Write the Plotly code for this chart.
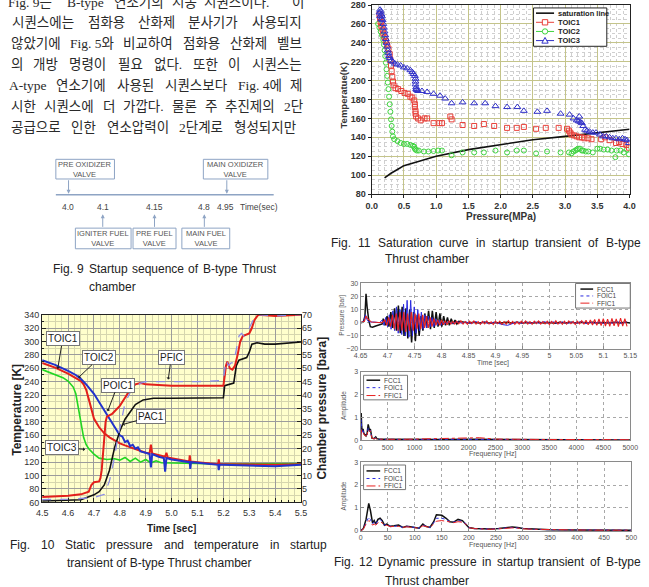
import plotly.graph_objects as go

W, H = 649, 587
def px(x): return x / W
def py(y): return 1 - y / H

SANS = "Liberation Sans, Arial, sans-serif"
BODY = "Liberation Serif, Noto Sans CJK KR, serif"

# ================= Fig. 10 data (time [sec], temperature [K], pressure [bara]) =================
t_toic1 = [4.50,4.55,4.60,4.63,4.65,4.66,4.67,4.68,4.69,4.70,4.72,4.74,4.76,4.78,4.80,4.82,4.84,4.86,4.88,4.90,
           4.915,4.92,4.925,4.95,4.975,4.98,4.985,5.00,5.05,5.068,5.07,5.073,5.10,5.15,5.18,5.182,5.185,5.20,5.30,5.40,5.50]
T_toic1 = [268,261,252,246,241,236,228,214,198,185,172,163,157,152,148,145,142,139,136,134,
           133,146,133,130,128,134,127,126,123,121,130,121,120,118,117,124,117,117,116,116,117]
t_toic2 = [4.50,4.55,4.60,4.63,4.65,4.67,4.70,4.72,4.74,4.76,4.78,4.80,4.81,4.82,4.83,4.84,4.85,4.86,4.87,4.88,
           4.90,4.915,4.92,4.925,4.95,4.97,4.975,4.98,5.00,5.05,5.07,5.072,5.075,5.10,5.15,5.18,5.182,5.185,5.20,5.30,5.40,5.50]
T_toic2 = [272,265,256,250,244,236,222,210,198,185,172,160,158,150,152,144,146,140,142,136,
           134,132,112,132,128,126,106,126,124,121,120,110,120,119,117,116,108,116,116,115,114,116]
t_toic3 = [4.50,4.55,4.58,4.60,4.61,4.62,4.63,4.64,4.65,4.66,4.67,4.68,4.70,4.72,4.75,4.78,4.80,4.82,4.84,4.86,
           4.88,4.90,4.92,4.94,4.96,5.00,5.10,5.20,5.30,5.40,5.50]
T_toic3 = [258,251,246,241,237,232,222,200,175,157,146,140,132,126,124,125,123,127,121,126,
           120,124,119,122,119,119,118,117,117,118,118]
t_poic1 = [4.50,4.55,4.60,4.65,4.68,4.69,4.70,4.72,4.725,4.73,4.735,4.74,4.745,4.75,4.77,4.78,4.80,4.82,4.84,4.86,
           4.88,4.90,4.95,5.00,5.10,5.20,5.205,5.21,5.215,5.225,5.235,5.245,5.255,5.265,5.275,5.29,5.30,5.31,5.32,5.335,5.40,5.50]
p_poic1 = [2.0,2.2,2.5,3.0,4.0,6.5,7.5,7.8,9,12,18,25,30,32,33,34,36,39,42,44,
           44.5,44,43.8,43.5,43.5,43.5,47,51,52.5,50,49.5,51,55,60,62,62.5,63,65,68,70,69.5,70]
t_pfic = [4.50,4.60,4.70,4.74,4.76,4.78,4.79,4.80,4.81,4.82,4.84,4.86,4.88,4.90,5.00,5.10,5.20,5.205,5.21,5.22,
          5.23,5.24,5.25,5.26,5.27,5.28,5.30,5.32,5.33,5.40,5.50]
p_pfic = [1.0,1.2,1.8,3,8,17,23,28,33,37,41,43,44.5,45,45,45,45.5,50,53,51,
          52,52,57,62,63,62,65,69,70,69.5,70]
t_pac1 = [4.50,4.60,4.65,4.70,4.72,4.74,4.76,4.78,4.80,4.82,4.84,4.86,4.89,4.93,5.00,5.10,5.20,5.205,5.24,5.25,
          5.26,5.29,5.30,5.31,5.33,5.36,5.40,5.50]
p_pac1 = [0.5,0.8,1.0,2.8,4.0,6.5,12,20.5,26.6,31,34,36.5,38.2,38.8,38.8,38.8,39,43.5,44.5,51,
          53,54,56,59,59.5,59,59,59.8]

# ================= Fig. 11 data (pressure [MPa], temperature [K]) =================
p_sat = [0.2,0.3,0.4,0.5,0.75,1.0,1.5,2.0,2.5,3.0,3.5,4.0]
T_sat = [97,102,106,110,115,120,127,132.5,137.5,141,144.5,148.5]
p_s1 = [0.12,0.13,0.14,0.15,0.17,0.18,0.20,0.22,0.24,0.26,0.28,0.29,0.30,0.31,0.32,0.33,0.34,0.37,0.41,0.46,
        0.51,0.56,0.60,0.63,0.66,0.67,0.67,0.68,0.68,0.69,0.72,0.76,0.82,0.86,0.96,1.05,1.09,1.22,1.24,1.41,
        1.59,1.74,1.90,2.10,2.25,2.36,2.55,2.70,2.90,3.03,3.06,3.08,3.10,3.14,3.18,3.22,3.26,3.30,3.36,3.41,
        3.56,3.62,3.69,3.79,3.84,3.89,3.95,3.99]
T_s1 = [270,266,262,258,254,250,246,242,238,234,228,222,216,210,204,199,195,192,191,189,
        187,186,183,182,179,175,172,168,165,162,160,158,160,160,155,155,155,162,159,153,
        152,154,152,150,150,151,149,150,150,149,147,145,143,142,141,140,140,139,139,138,
        138,140,137,134,135,133,132,129]
p_s2 = [0.10,0.12,0.14,0.16,0.18,0.19,0.20,0.21,0.22,0.23,0.24,0.25,0.26,0.27,0.28,0.29,0.30,0.31,0.32,0.33,
        0.35,0.40,0.45,0.50,0.55,0.60,0.64,0.66,0.67,0.68,0.70,0.73,0.81,0.88,0.96,1.03,1.09,1.24,1.41,1.59,
        1.74,1.92,2.10,2.25,2.36,2.55,2.72,2.93,3.06,3.10,3.13,3.16,3.18,3.20,3.23,3.26,3.28,3.32,3.36,3.43,
        3.50,3.54,3.60,3.66,3.72,3.78,3.80,3.86,3.91,3.96,3.99]
T_s2 = [260,256,252,248,243,238,232,226,219,212,205,198,191,183,175,167,159,152,146,141,
        138,136,134,133,133,132,131,130,128,127,126,126,125,125,125.5,126,126,121,124,124,
        124,126,124,126,126,123,125,124,124,123,125,126,127,128,128,126,126,125,125,124,
        128,128,127,127,126,119,126,126,124,127,122]
p_s3 = [0.12,0.13,0.13,0.14,0.15,0.15,0.16,0.17,0.18,0.19,0.20,0.21,0.22,0.23,0.24,0.25,0.26,0.27,0.28,0.30,
        0.33,0.36,0.40,0.45,0.50,0.55,0.60,0.63,0.65,0.67,0.68,0.68,0.68,0.69,0.69,0.70,0.72,0.78,0.86,0.96,
        1.06,1.14,1.24,1.41,1.59,1.76,1.92,2.10,2.26,2.36,2.57,2.72,2.93,3.07,3.13,3.18,3.21,3.22,3.24,3.26,
        3.28,3.31,3.34,3.38,3.43,3.48,3.54,3.59,3.64,3.69,3.74,3.79,3.84,3.89,3.93,3.96,3.99]
T_s3 = [272,275,268,273,270,265,268,264,260,256,252,248,244,240,236,232,229,226,224,221,
        220,218,217,216,214,213,211,209,207,205,202,199,196,193,191,190,189,189,188,186,
        184,181,176,177,176,176,173,172,172,168,167,168,165,164,160,158,157,162,156,155,
        152,148,147,146,145,145,143,141,141,140,139,139,138,139,138,137,134]

# ================= Fig. 12 data =================
# (a) dynamic pressure [bar] vs time [sec]
fcc1_t_head = [4.650,4.655,4.658,4.660,4.662,4.665,4.668,4.672,4.678,4.685,4.690]
fcc1_v_head = [0,0.5,5,22,12,2,-3,-3.5,-2.5,-1.5,-1]
fcc1_v_osc = [3,-2,5,-3,8,-4,11,-6,13,-8,12,-10,11,-12,10,-15,8,-14,6,-10,5,-6,7,-4,9,-5,9,-4,8,-3,7,-3,5,-2,4,-2,3,-1,2,-1,1]
fcc1_v_tail = [0.3,-0.3,0.4,-0.2,0.3,-0.4,0.2,-0.3,0.3,-0.2,0.4,-0.3,0.2,-0.2,0.3,-0.3,0.2,-0.4,0.3,-0.2,
               0.3,-0.3,0.4,-0.2,0.3,-0.3,0.2,-0.3,0.4,-0.2,0.3,-0.3]
foic1_t_head = [4.650,4.656,4.659,4.661,4.664,4.668,4.675,4.685]
foic1_v_head = [0,1,6,3,1,0.5,0.5,0]
foic1_v_osc = [2,-2,4,-3,6,-5,9,-6,12,-8,10,-9,14,-10,17,-11,17,-10,12,-8,10,-6,8,-5,6,-4,5,-3,4,-3,3,-2,2,-2,1,-1]
foic1_v_tail = [0.6,-0.5,0.8,-0.4,0.5,-0.7,0.9,-0.5,0.6,-0.8,0.4,-0.6,-1.5,-2.0,-1.0,0.5,-0.4,0.7,-0.6,0.5,
                -0.5,0.8,-0.4,0.6,-0.7,0.5,-0.6,0.4,-0.5,0.9,-0.6,0.5,-0.4,0.7,-0.8,0.6,-0.5,0.8,-0.7,0.9]
ffic1_t_head = [4.650,4.657,4.660,4.663,4.670,4.680,4.690]
ffic1_v_head = [0,1,5,3,0.5,0,0]
ffic1_v_osc = [2,-2,4,-3,6,-5,7,-6,8,-6,8,-7,7,-6,8,-6,7,-5,7,-5,6,-4,5,-4,4,-3,3,-2,2,-2,2,-1.5,1.5,-1.5,1.5,-1,1,-1]
ffic1_v_tail = [1.2,-0.8,1.5,-1.0,0.9,-1.3,1.1,-0.7,1.4,-1.1,0.8,-1.2,1.0,-0.9,1.3,-1.0,0.7,-1.4,1.2,-0.8,
                1.1,-1.2,0.9,-1.0,1.5,-0.9,1.0,-1.3,0.8,-1.1,1.2,-0.7,1.4,-1.0,0.9,-1.2,1.1,-0.8,1.3,-1.1,
                0.8,-1.0,1.2,-1.3,1.0,-0.9,1.4,-1.1,0.9,-1.2,1.1,-1.0,1.3,-0.8,1.0,-1.4,1.2,-0.9,1.5,-1.2,
                1.8,-1.5,2.0,-1.8,2.4,-2.0,2.8,-2.2,3.0,-2.5,2.6,-2.8,3.2,-2.4,2.9,-3.0,3.4,-2.6,3.0,-2.8]
# sampling grids of the recorded signals: (start, step)
grid_fcc1 = ((4.692, 0.0035), (4.840, 0.010))
grid_foic1 = ((4.690, 0.0033), (4.812, 0.0085))
grid_ffic1 = ((4.695, 0.0035), (4.828, 0.004))

# (b) amplitude vs frequency [Hz], 0-5000 Hz
f_mid = [0,5,10,20,30,45,60,80,100,120,140,155,165,180,195,210,250,280,300,350,500,800,1000,1500,2000,2200,2500,3000,3500,4000,4400,4600,5000]
a_mid_fcc1 = [0,0.6,1.2,0.6,0.4,0.5,0.3,0.25,0.2,0.3,0.7,0.55,0.4,0.5,0.3,0.1,0.08,0.15,0.08,0.05,0.05,0.04,0.04,0.04,0.05,0.05,0.04,0.03,0.03,0.03,0.05,0.03,0.02]
a_mid_foic1 = [0,0.4,0.9,0.5,0.35,0.45,0.3,0.25,0.2,0.25,0.55,0.5,0.4,0.45,0.25,0.1,0.08,0.12,0.07,0.05,0.05,0.04,0.04,0.05,0.05,0.05,0.04,0.03,0.03,0.03,0.04,0.03,0.02]
a_mid_ffic1 = [0,0.3,0.5,0.35,0.3,0.35,0.25,0.2,0.2,0.25,0.45,0.45,0.4,0.42,0.25,0.1,0.07,0.1,0.06,0.05,0.05,0.05,0.06,0.07,0.09,0.12,0.06,0.04,0.04,0.04,0.06,0.04,0.03]
# (c) amplitude vs frequency [Hz], 0-500 Hz
f_low = [0,5,10,15,18,22,25,28,32,36,40,44,48,55,62,70,78,85,92,100,108,115,120,128,135,140,150,158,165,172,
         180,188,195,200,210,225,240,255,270,280,290,300,320,350,400,450,500]
a_low_fcc1 = [0,0.1,0.5,1.2,0.9,0.35,0.45,0.3,0.5,0.55,0.45,0.25,0.3,0.2,0.22,0.25,0.15,0.2,0.18,0.15,0.12,0.3,0.2,0.15,0.4,0.7,0.68,0.55,0.4,0.38,
              0.5,0.45,0.3,0.15,0.1,0.08,0.08,0.1,0.15,0.17,0.15,0.1,0.08,0.05,0.04,0.03,0.03]
a_low_foic1 = [0,0.1,0.35,0.6,0.5,0.3,0.4,0.3,0.45,0.5,0.4,0.25,0.28,0.2,0.2,0.22,0.15,0.2,0.18,0.15,0.12,0.25,0.2,0.15,0.35,0.55,0.55,0.5,0.4,0.38,
               0.45,0.42,0.3,0.15,0.1,0.08,0.08,0.1,0.13,0.15,0.13,0.1,0.07,0.05,0.04,0.03,0.03]
a_low_ffic1 = [0,0.08,0.3,0.45,0.4,0.25,0.3,0.25,0.35,0.4,0.35,0.22,0.25,0.18,0.2,0.2,0.15,0.18,0.16,0.14,0.12,0.22,0.18,0.15,0.3,0.42,0.45,0.42,0.38,0.36,
               0.4,0.38,0.28,0.14,0.1,0.08,0.07,0.09,0.12,0.13,0.12,0.09,0.07,0.05,0.04,0.03,0.03]

# tick labels
f12a_ticks = [4.65,4.7,4.75,4.8,4.85,4.9,4.95,5.0,5.05,5.1,5.15]
f12a_ticktext = ["4.65","4.7","4.75","4.8","4.85","4.9","4.95","5","5.05","5.1","5.15"]
f12b_ticks = [0,500,1000,1500,2000,2500,3000,3500,4000,4500,5000]
f12c_ticks = [0,50,100,150,200,250,300,350,400,450,500]

# ================= Fig. 9 sequence =================
seq_times = ["4.0", "4.1", "4.15", "4.8", "4.95"]
seq_valves = ["PRE OXIDIZER<br>VALVE", "IGNITER FUEL<br>VALVE", "PRE FUEL<br>VALVE", "MAIN FUEL<br>VALVE", "MAIN OXIDIZER<br>VALVE"]
seq_side = ["above", "below", "below", "below", "above"]

def series(t_head, v_head, v_osc, v_tail, grid):
    (s1, d1), (s2, d2) = grid
    t = list(t_head) + [round(s1 + i * d1, 5) for i in range(len(v_osc))] + [round(s2 + i * d2, 5) for i in range(len(v_tail))]
    return t, list(v_head) + list(v_osc) + list(v_tail)

fig = go.Figure()

# ---- Fig. 10 ----
RED, BLUE, GREEN = "#e3201b", "#2233cc", "#22d622"
fig.add_trace(go.Scatter(x=t_toic3, y=T_toic3, mode="lines", line=dict(color=GREEN, width=1.6), xaxis="x", yaxis="y"))
fig.add_trace(go.Scatter(x=t_toic1, y=T_toic1, mode="lines", line=dict(color=RED, width=2), xaxis="x", yaxis="y"))
fig.add_trace(go.Scatter(x=t_toic2, y=T_toic2, mode="lines", line=dict(color=BLUE, width=2), xaxis="x", yaxis="y"))
fig.add_trace(go.Scatter(x=t_pac1, y=p_pac1, mode="lines", line=dict(color="#111111", width=1.6), xaxis="x", yaxis="y2"))
fig.add_trace(go.Scatter(x=t_poic1, y=p_poic1, mode="lines", line=dict(color=RED, width=2), xaxis="x", yaxis="y2"))
fig.add_trace(go.Scatter(x=t_pfic, y=p_pfic, mode="lines", line=dict(color="#8c8ce8", width=1.3, dash="dash"), xaxis="x", yaxis="y2"))

# ---- Fig. 11 ----
R11, G11, B11 = "#e8403a", "#3ed43e", "#3030c8"
fig.add_trace(go.Scatter(x=p_sat, y=T_sat, mode="lines", line=dict(color="#111", width=1.6), xaxis="x3", yaxis="y3"))
fig.add_trace(go.Scatter(x=p_s2, y=T_s2, mode="markers", marker=dict(symbol="circle-open", size=5, color=G11, line=dict(width=1, color=G11)), xaxis="x3", yaxis="y3"))
fig.add_trace(go.Scatter(x=p_s1, y=T_s1, mode="markers", marker=dict(symbol="square-open", size=5, color=R11, line=dict(width=1, color=R11)), xaxis="x3", yaxis="y3"))
fig.add_trace(go.Scatter(x=p_s3, y=T_s3, mode="markers", marker=dict(symbol="triangle-up-open", size=6, color=B11, line=dict(width=1, color=B11)), xaxis="x3", yaxis="y3"))

# ---- Fig. 12 ----
t1, v1 = series(fcc1_t_head, fcc1_v_head, fcc1_v_osc, fcc1_v_tail, grid_fcc1)
t2, v2 = series(foic1_t_head, foic1_v_head, foic1_v_osc, foic1_v_tail, grid_foic1)
t3, v3 = series(ffic1_t_head, ffic1_v_head, ffic1_v_osc, ffic1_v_tail, grid_ffic1)
S_FCC = dict(color="#111", width=1.5)
S_FOIC = dict(color="#2a2ae0", width=1, dash="dot")
S_FFIC = dict(color="#e82020", width=1, dash="dashdot")
fig.add_trace(go.Scatter(x=t1, y=v1, mode="lines", line=S_FCC, xaxis="x4", yaxis="y4"))
fig.add_trace(go.Scatter(x=t2, y=v2, mode="lines", line=dict(color="#2a2ae0", width=1), xaxis="x4", yaxis="y4"))
fig.add_trace(go.Scatter(x=t3, y=v3, mode="lines", line=dict(color="#e82020", width=1.1), xaxis="x4", yaxis="y4"))
for a, s in ((a_mid_fcc1, S_FCC), (a_mid_foic1, S_FOIC), (a_mid_ffic1, S_FFIC)):
    fig.add_trace(go.Scatter(x=f_mid, y=a, mode="lines", line=s, xaxis="x5", yaxis="y5"))
for a, s in ((a_low_fcc1, S_FCC), (a_low_foic1, S_FOIC), (a_low_ffic1, S_FFIC)):
    fig.add_trace(go.Scatter(x=f_low, y=a, mode="lines", line=s, xaxis="x6", yaxis="y6"))

# ---------------- axes ----------------
ax10 = dict(showline=True, linecolor="#222", linewidth=1, mirror=True, ticks="inside", ticklen=4, tickcolor="#222",
            tickfont=dict(size=9, color="#333", family=SANS), zeroline=False, showgrid=True, gridcolor="#9c9c9c", gridwidth=1)
ax11 = dict(showline=True, linecolor="#222", linewidth=1, mirror=True, ticks="outside", ticklen=3, tickcolor="#222",
            tickfont=dict(size=9, color="#333", family=SANS, weight="bold"), zeroline=False, showgrid=True,
            gridcolor="#c4c48a", gridwidth=1)
ax12 = dict(showline=True, linecolor="#8a8a8a", linewidth=1, mirror=True, ticks="inside", ticklen=3, tickcolor="#8a8a8a",
            tickfont=dict(size=7, color="#555", family=SANS), zeroline=False, showgrid=True, gridcolor="#a8a8a8",
            griddash="dot", gridwidth=1)

fig.update_layout(
    xaxis=dict(domain=[px(36), px(301)], range=[4.5, 5.5], tick0=4.5, dtick=0.1, tickformat=".1f", anchor="y",
               ticklabelstandoff=2,
               minor=dict(dtick=0.025, showgrid=True, gridcolor="#d6d6ae", ticks="inside", ticklen=2), **ax10),
    yaxis=dict(domain=[py(506), py(315)], range=[60, 340], dtick=20, anchor="x",
               minor=dict(dtick=10, showgrid=True, gridcolor="#d6d6ae", ticks="inside", ticklen=2), **ax10),
    yaxis2=dict(overlaying="y", side="right", range=[0, 70], dtick=5, anchor="x", showgrid=False, zeroline=False,
                showline=False, ticks="inside", ticklen=4, tickcolor="#222", tickfont=dict(size=9, color="#333", family=SANS)),
    xaxis3=dict(domain=[px(373.3), px(637.3)], range=[0, 4], dtick=0.5, tickformat=".1f", anchor="y3",
                minor=dict(dtick=0.1, showgrid=True, gridcolor="#cfcfcf", griddash="dot"), **ax11),
    yaxis3=dict(domain=[py(192.3), 1.0], range=[80, 280], dtick=20, anchor="x3",
                minor=dict(dtick=5, showgrid=True, gridcolor="#cfcfcf", griddash="dot"), **ax11),
    xaxis4=dict(domain=[px(362), px(638)], range=[4.65, 5.15], tickvals=f12a_ticks, ticktext=f12a_ticktext, anchor="y4", **ax12),
    yaxis4=dict(domain=[py(350), py(283)], range=[-20, 30], dtick=10, anchor="x4", **ax12),
    xaxis5=dict(domain=[px(362), px(638)], range=[0, 5000], tickvals=f12b_ticks, ticktext=[str(v) for v in f12b_ticks], anchor="y5", **ax12),
    yaxis5=dict(domain=[py(443), py(373)], range=[0, 3], dtick=1, anchor="x5", **ax12),
    xaxis6=dict(domain=[px(362), px(639)], range=[0, 500], tickvals=f12c_ticks, ticktext=[str(v) for v in f12c_ticks], anchor="y6", **ax12),
    yaxis6=dict(domain=[py(535), py(465)], range=[0, 3], dtick=1, anchor="x6", **ax12),
)

ann = []
shapes = []

def text(x, y, s, size=12, color="#222", family=SANS, xanchor="center", angle=0, weight="normal"):
    ann.append(dict(x=px(x), y=py(y), xref="paper", yref="paper", text=s, showarrow=False,
                    xanchor=xanchor, yanchor="middle", textangle=angle,
                    font=dict(size=size, color=color, family=family, weight=weight)))

# ---- Korean body text (justified lines, word centres in px) ----
body = [
    (-3, [("Fig. 9는", 24), ("B-type", 80), ("연소기의", 135), ("시동", 182), ("시퀀스이다.", 235), ("이", 298)]),
    (18.3, [("시퀀스에는", 36.7), ("점화용", 101.6), ("산화제", 153), ("분사기가", 211.2), ("사용되지", 276.1)]),
    (39.5, [("않았기에", 30), ("Fig. 5와", 87.2), ("비교하여", 144.4), ("점화용", 199.4), ("산화제", 247.6), ("벨브", 289)]),
    (61, [("의", 9.8), ("개방", 39.6), ("명령이", 82.9), ("필요", 126.3), ("없다.", 164.6), ("또한", 202.9), ("이", 232.7), ("시퀀스는", 276.1)]),
    (82, [("A-type", 21.8), ("연소기에", 75.9), ("사용된", 131.6), ("시퀀스보다", 194), ("Fig. 4에", 258.6), ("제", 296.3)]),
    (103.5, [("시한", 16.5), ("시퀀스에", 63.7), ("더", 104.1), ("가깝다.", 139.5), ("물론", 181.7), ("주", 208.6), ("추진제의", 249.1), ("2단", 292.9)]),
    (125, [("공급으로", 30), ("인한", 78.5), ("연소압력이", 133.7), ("2단계로", 199.1), ("형성되지만", 264.5)]),
]
for y, words in body:
    for w, cx in words:
        text(cx, y, w, size=13.5, color="#2a2a2a", family=BODY)

# ---- Fig. 9 diagram ----
BOXC = "#8ea4c4"
seq_label_x = [62, 98, 151, 202, 224]
seq_arrow_x = [63, 98, 151, 202, 225]
seq_box_x = [(50, 110), (70, 127), (129, 173), (179, 228), (201, 267)]
shapes.append(dict(type="line", xref="paper", yref="paper", x0=px(50), x1=px(273), y0=py(193), y1=py(193),
                   line=dict(color=BOXC, width=1.5)))
for lab, valve, side, lx, axx, (bx0, bx1) in zip(seq_times, seq_valves, seq_side, seq_label_x, seq_arrow_x, seq_box_x):
    by0, by1 = (157, 177) if side == "above" else (227, 248)
    shapes.append(dict(type="rect", xref="paper", yref="paper", x0=px(bx0), x1=px(bx1), y0=py(by1), y1=py(by0),
                       line=dict(color=BOXC, width=1), fillcolor="white"))
    text((bx0 + bx1) / 2, (by0 + by1) / 2, valve, size=7.5, color="#555")
    text(lx, 205, lab, size=8.5, color="#444")
    if side == "above":
        ann.append(dict(x=px(axx), y=py(192), xref="paper", yref="paper", ax=0, ay=-15, text="", showarrow=True,
                        arrowhead=2, arrowsize=0.8, arrowwidth=1, arrowcolor=BOXC))
    else:
        ann.append(dict(x=px(axx), y=py(213), xref="paper", yref="paper", ax=0, ay=14, text="", showarrow=True,
                        arrowhead=2, arrowsize=0.8, arrowwidth=1, arrowcolor=BOXC))
text(258, 205, "Time(sec)", size=8.5, color="#444")

# ---- captions (justified: word centres in px) ----
CAP = 12
cap_rows = [
    (269, [("Fig.", 57), ("9", 75.7), ("Startup", 103.7), ("sequence", 154.3), ("of", 190.6), ("B-type", 218.3), ("Thrust", 258)]),
    (287, [("chamber", 107.5)]),
    (549, [("Fig.", 13), ("10", 41.6), ("Static", 75.1), ("pressure", 125.4), ("and", 170.6), ("temperature", 224.9), ("in", 273.8), ("startup", 308.7)]),
    (568, [("transient of B-type Thrust chamber", 156)]),
    (242, [("Fig.", 342), ("11", 366.4), ("Saturation", 408.2), ("curve", 457.9), ("in", 485), ("startup", 515.7), ("transient", 564.8), ("of", 600.6), ("B-type", 630.7)]),
    (258.5, [("Thrust chamber", 430)]),
    (567, [("Fig.", 345), ("12", 367.9), ("Dynamic", 404), ("pressure", 457), ("in", 491.2), ("startup", 520.4), ("transient", 567.9), ("of", 602.1), ("B-type", 630.7)]),
    (586, [("Thrust chamber", 430)]),
]
for y, words in cap_rows:
    for w, cx in words:
        text(cx, y, w, size=CAP, color="#222")

# ---- Fig. 10 decorations ----
shapes.append(dict(type="rect", xref="x domain", yref="y domain", x0=0, x1=1, y0=0, y1=1, layer="below",
                   fillcolor="#ffffcc", line=dict(width=0)))
text(10, 412, "Temperature [K]", size=12, color="#222", angle=-90, weight="bold")
text(322, 410, "Chamber pressure [bara]", size=12, color="#222", angle=-90, weight="bold")
text(168, 533, "Time [sec]", size=10, color="#222", weight="bold")
labels10 = [("TOIC1", 4.56, 259, "y", 5, -30), ("TOIC2", 4.64, 246, "y", 21, -20), ("PFIC", 4.987, 45.8, "y2", 3, -22),
            ("POIC1", 4.753, 34, "y2", 10, -26), ("PAC1", 4.81, 29, "y2", 29, -8), ("TOIC3", 4.666, 139, "y", -23, -2)]
for s, x, y, yr, dx, dy in labels10:
    ann.append(dict(x=x, y=y, xref="x", yref=yr, ax=dx, ay=dy, text=s, showarrow=True, arrowhead=1, arrowsize=0.7,
                    arrowwidth=1, arrowcolor="#222", bgcolor="white", bordercolor="#777", borderwidth=1, borderpad=1,
                    font=dict(size=10, color="#222", family=SANS)))

# ---- Fig. 11 decorations ----
text(344, 92, "Temperatue(K)", size=9.5, color="#333", angle=-90, weight="bold")
text(506, 215, "Pressure(MPa)", size=10, color="#333", weight="bold")
shapes.append(dict(type="rect", xref="paper", yref="paper", x0=px(539), x1=px(614), y0=py(42), y1=py(3),
                   line=dict(color="#222", width=1), fillcolor="white"))
leg11 = [("saturation line", "#111", None, 8.3), ("TOIC1", R11, "square", 17.6), ("TOIC2", G11, "circle", 26.9), ("TOIC3", B11, "triangle", 36.2)]
for s, c, m, y in leg11:
    shapes.append(dict(type="line", xref="paper", yref="paper", x0=px(541.5), x1=px(560), y0=py(y), y1=py(y),
                       line=dict(color=c, width=1.6 if m is None else 1)))
    if m == "square":
        shapes.append(dict(type="rect", xref="paper", yref="paper", x0=px(548), x1=px(553.5), y0=py(y + 2.7), y1=py(y - 2.7),
                           line=dict(color=c, width=1), fillcolor="white"))
    elif m == "circle":
        shapes.append(dict(type="circle", xref="paper", yref="paper", x0=px(548), x1=px(553.5), y0=py(y + 2.7), y1=py(y - 2.7),
                           line=dict(color=c, width=1), fillcolor="white"))
    elif m == "triangle":
        shapes.append(dict(type="path", xref="paper", yref="paper",
                           path=f"M {px(550.75)} {py(y - 3.2)} L {px(554)} {py(y + 2.6)} L {px(547.5)} {py(y + 2.6)} Z",
                           line=dict(color=c, width=1), fillcolor="white"))
    text(561.5, y, s, size=7.5, color="#222", xanchor="left", weight="bold")

# ---- Fig. 12 decorations ----
text(343, 316, "Pressure [bar]", size=6.5, color="#555", angle=-90)
text(345, 408, "Amplitude", size=6.5, color="#555", angle=-90)
text(345, 500, "Amplitude", size=6.5, color="#555", angle=-90)
text(497, 364.5, "Time [sec]", size=7, color="#555")
text(497, 457, "Frequency [Hz]", size=7, color="#555")
text(497, 549, "Frequency [Hz]", size=7, color="#555")
leg12 = [(582, 638, 283.3, 308.3, 587, 600, [289, 296, 303.3]),
         (365, 410, 376.7, 401.7, 368, 382, [381.7, 389.3, 397.3]),
         (365, 408, 468, 493, 368, 382, [474, 481.7, 489.3])]
for bx0, bx1, by0, by1, lx0, lx1, ys in leg12:
    shapes.append(dict(type="rect", xref="paper", yref="paper", x0=px(bx0), x1=px(bx1), y0=py(by1), y1=py(by0),
                       line=dict(color="#777", width=1), fillcolor="white"))
    for (s, st), y in zip((("FCC1", S_FCC), ("FOIC1", S_FOIC), ("FFIC1", S_FFIC)), ys):
        shapes.append(dict(type="line", xref="paper", yref="paper", x0=px(lx0), x1=px(lx1), y0=py(y), y1=py(y),
                           line=dict(color=st["color"], width=st["width"], dash=st.get("dash", "solid"))))
        text(lx1 + 2, y, s, size=6.5, color="#444", xanchor="left")

fig.update_layout(width=W, height=H, margin=dict(l=0, r=0, t=0, b=0), paper_bgcolor="white",
                  plot_bgcolor="rgba(0,0,0,0)", showlegend=False, annotations=ann, shapes=shapes)
fig.write_html("out.html")
